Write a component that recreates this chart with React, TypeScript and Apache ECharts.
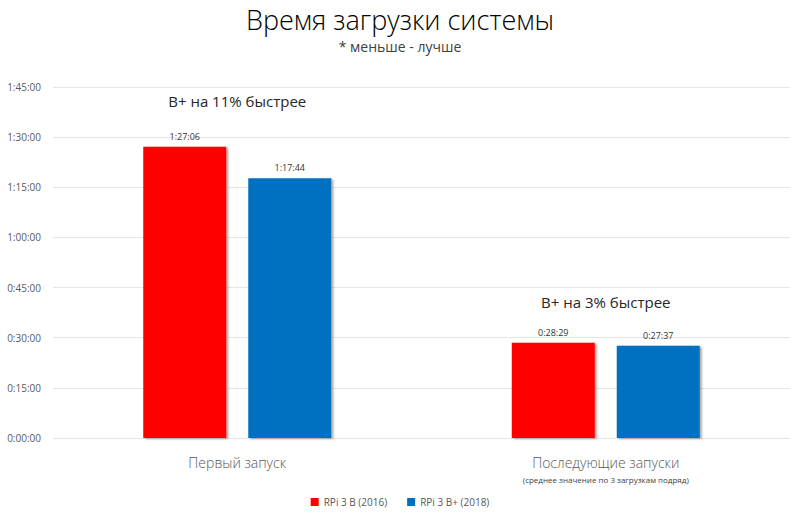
import React, { useEffect, useRef } from "react";
import * as echarts from "echarts";

const categories = ["Первый запуск", "Последующие запуски"];
const categoryNotes = ["", "(среднее значение по 3 загрузкам подряд)"];
const seriesNames = ["RPi 3 B (2016)", "RPi 3 B+ (2018)"];
// seconds
const rpi3b = [5226, 1709]; // 1:27:06, 0:28:29
const rpi3bPlus = [4664, 1657]; // 1:17:44, 0:27:37
const annotations = ["B+ на 11% быстрее", "B+ на 3% быстрее"];
const annotationLevels = [6050, 2440]; // seconds, vertical level of annotation text
const colors = ["#ff0000", "#0070c0"];

const FONT = "'Open Sans', 'Noto Sans', sans-serif";

function fmt(v: number): string {
  const h = Math.floor(v / 3600);
  const m = Math.floor((v % 3600) / 60);
  const s = Math.round(v % 60);
  return `${h}:${String(m).padStart(2, "0")}:${String(s).padStart(2, "0")}`;
}

export default function App() {
  const ref = useRef<HTMLDivElement>(null);
  useEffect(() => {
    if (!ref.current) return;
    const chart = echarts.init(ref.current, null, { renderer: "svg" });
    const barStyle = (c: string) => ({
      color: c,
      shadowColor: "rgba(0,0,0,0.35)",
      shadowBlur: 2,
      shadowOffsetX: 2,
      shadowOffsetY: 1,
    });
    const label = {
      show: true,
      position: "top" as const,
      formatter: (p: any) => fmt(p.value),
      fontSize: 9,
      color: "#333333",
      fontFamily: FONT,
      distance: 6,
    };
    chart.setOption({
      animation: false,
      backgroundColor: "#ffffff",
      title: {
        text: "Время загрузки системы",
        subtext: "* меньше - лучше",
        left: "center",
        top: 1,
        itemGap: 6,
        textStyle: { fontFamily: FONT, fontWeight: 300, fontSize: 27, color: "#000000" },
        subtextStyle: { fontFamily: FONT, fontSize: 14, color: "#404040" },
      },
      legend: {
        bottom: 8,
        left: "center",
        itemWidth: 8,
        itemHeight: 8,
        itemGap: 20,
        icon: "rect",
        textStyle: { fontFamily: FONT, fontSize: 10, color: "#595959" },
        data: seriesNames,
      },
      grid: { left: 53, right: 10, top: 87, bottom: 82, containLabel: false },
      xAxis: {
        type: "category",
        data: categories,
        axisLine: { show: false },
        axisTick: { show: false },
        axisLabel: {
          margin: 14,
          interval: 0,
          formatter: (v: string, i: number) =>
            categoryNotes[i] ? `{main|${v}}\n{note|${categoryNotes[i]}}` : `{main|${v}}`,
          rich: {
            main: { fontFamily: FONT, fontSize: 14, fontWeight: 300, color: "#595959", lineHeight: 20 },
            note: { fontFamily: FONT, fontSize: 8, color: "#404040", lineHeight: 14 },
          },
        },
      },
      yAxis: {
        type: "value",
        min: 0,
        max: 6300,
        interval: 900,
        axisLine: { show: false },
        axisTick: { show: false },
        splitLine: { lineStyle: { color: "#e6e6e6", width: 1 } },
        axisLabel: {
          formatter: (v: number) => fmt(v),
          fontFamily: FONT,
          fontSize: 10,
          color: "#595959",
          margin: 12,
        },
      },
      series: [
        {
          name: seriesNames[0],
          type: "bar",
          data: rpi3b,
          barWidth: 83,
          barGap: "26.5%",
          itemStyle: barStyle(colors[0]),
          label,
        },
        {
          name: seriesNames[1],
          type: "bar",
          data: rpi3bPlus,
          barWidth: 83,
          itemStyle: barStyle(colors[1]),
          label,
        },
      ],
    });
    const elements = annotations.map((a, i) => {
      const [x, y] = chart.convertToPixel({ gridIndex: 0 }, [i, annotationLevels[i]]) as number[];
      return {
        type: "text",
        x,
        y,
        style: {
          text: a,
          fontFamily: FONT,
          fontSize: 15,
          fill: "#262626",
          align: "center",
          verticalAlign: "middle",
        },
      };
    });
    chart.setOption({ graphic: { elements } });
    return () => chart.dispose();
  }, []);
  return (
    <div
      ref={ref}
      style={{ position: "fixed", left: 0, top: 0, width: 800, height: 520 }}
    />
  );
}
